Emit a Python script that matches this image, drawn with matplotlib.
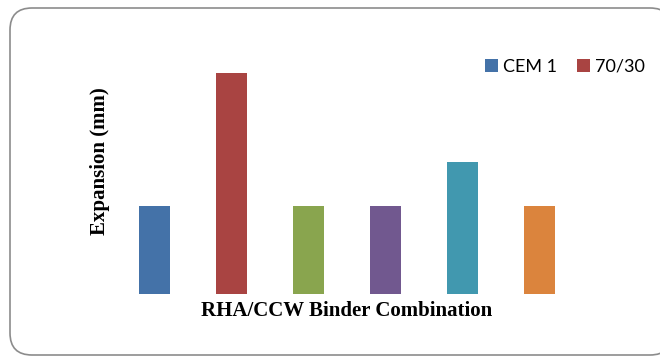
import matplotlib.pyplot as plt
from matplotlib.patches import FancyBboxPatch

mixes = ['CEM 1', '70/30', 'mix 3', 'mix 4', 'mix 5', 'mix 6']
expansion = [2, 5, 2, 2, 3, 2]
colors = ['#4472a8', '#a94442', '#89a54e', '#71588f', '#4198af', '#db843d']

fig = plt.figure(figsize=(6.6, 3.56), dpi=100)

# rounded frame around the whole chart, kept behind the axes
frame = FancyBboxPatch((0.10, 0.01), 6.62, 3.47,
                       boxstyle='round,pad=0,rounding_size=0.22',
                       transform=fig.dpi_scale_trans, zorder=-1,
                       facecolor='white', edgecolor='#8c8c8c', linewidth=1.2)
fig.patches.append(frame)

ax = fig.add_axes([0.175, 0.174, 0.7015, 0.744])
ax.set_facecolor('none')
x = list(range(len(expansion)))
bars = ax.bar(x, expansion, width=0.4, color=colors)

ax.set_xlim(-0.5, len(expansion) - 0.5)
ax.set_ylim(0, 6)
ax.set_xticks([])
ax.set_yticks([])
for s in ax.spines.values():
    s.set_visible(False)

ax.set_xlabel('RHA/CCW Binder Combination', family='Liberation Serif',
              fontweight='bold', fontsize=15, labelpad=5)
ax.set_ylabel('Expansion (mm)', family='Liberation Serif',
              fontweight='bold', fontsize=15, labelpad=4)

fig.legend([bars[0], bars[1]], mixes[:2], loc='center left',
           bbox_to_anchor=(0.735, 0.812), ncol=2, frameon=False,
           prop={'family': 'Lato', 'size': 13},
           handlelength=0.7, handleheight=0.7, handletextpad=0.3,
           columnspacing=1.1, borderpad=0, borderaxespad=0)

fig.savefig('out.png', dpi=100)
